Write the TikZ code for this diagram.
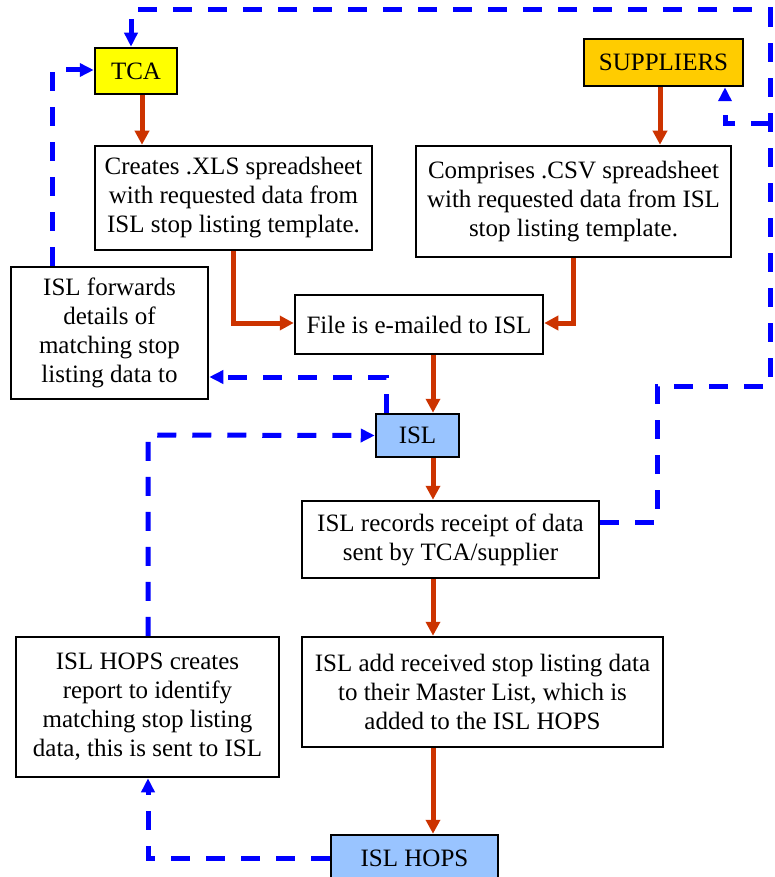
\documentclass[tikz,border=0pt]{standalone}
\usepackage{fontspec}
\setmainfont{Liberation Serif}
\usetikzlibrary{arrows.meta}
\definecolor{redarr}{RGB}{204,51,0}
\definecolor{tcay}{RGB}{255,255,0}
\definecolor{supy}{RGB}{255,204,0}
\definecolor{islb}{RGB}{153,196,255}
\tikzset{
  box/.style={draw=black, line width=2.5pt, fill=white, inner sep=0pt, align=center,
    font=\fontsize{25}{29}\selectfont},
  redline/.style={draw=redarr, line width=5pt, -{Triangle[length=14pt,width=14pt]}},
  blueline/.style={draw=blue, line width=5pt, dash pattern=on 19pt off 16pt},
  bluearr/.style={blueline, -{Triangle[length=14pt,width=13pt]}}
}
\begin{document}
\begin{tikzpicture}[x=1pt,y=-1pt]
\useasboundingbox (0,0) rectangle (775,877);
% nodes
\node[box, fill=tcay, minimum width=82pt, minimum height=46pt] (tca) at (136,71) {TCA};
\node[box, minimum width=277pt, minimum height=104pt] (cre) at (233.5,198) {Creates .XLS spreadsheet\\with requested data from\\ISL stop listing template.};
\node[box, minimum width=197pt, minimum height=132pt] (fwd) at (109.5,333) {ISL forwards\\details of\\matching stop\\listing data to};
\node[box, minimum width=248pt, minimum height=59pt] (file) at (419,324.5) {File is e-mailed to ISL};
\node[box, fill=supy, minimum width=159pt, minimum height=47pt] (sup) at (663.5,62.5) {SUPPLIERS};
\node[box, minimum width=315pt, minimum height=111pt] (com) at (573.5,201.5) {Comprises .CSV spreadsheet\\with requested data from ISL\\stop listing template.};
\node[box, fill=islb, minimum width=83pt, minimum height=43pt] (isl) at (417.5,435.5) {ISL};
\node[box, minimum width=297pt, minimum height=77pt] (rec) at (450.5,539.5) {ISL records receipt of data\\sent by TCA/supplier};
\node[box, minimum width=361pt, minimum height=110pt] (add) at (482.5,692) {ISL add received stop listing data\\to their Master List, which is\\added to the ISL HOPS};
\node[box, minimum width=263pt, minimum height=140pt] (hcr) at (147.5,707) {ISL HOPS creates\\report to identify\\matching stop listing\\data, this is sent to ISL};
\node[box, fill=islb, minimum width=167pt, minimum height=46pt] (hops) at (414.5,858) {ISL HOPS};
% coordinates for bends
\coordinate (r1) at (657,522);
\coordinate (r2) at (657,386);
\coordinate (r3) at (770,386);
\coordinate (r4) at (770,10);
\coordinate (r5) at (131,10);
\coordinate (s1) at (770,124);
\coordinate (s2) at (725,124);
\coordinate (f1) at (386,377);
\coordinate (t1) at (52,70);
\coordinate (h1) at (148,858);
\coordinate (h2) at (148,435);
\coordinate (a1) at (142,0);
\coordinate (a2) at (660,0);
\coordinate (a3) at (233,323);
\coordinate (a4) at (573,323);
\coordinate (a5) at (433,0);
% red arrows
\draw[redline] (tca.south -| a1) -- (cre.north -| a1);
\draw[redline] (sup.south -| a2) -- (com.north -| a2);
\draw[redline] (cre.south -| a3) -- (a3) -- (a3 -| file.west);
\draw[redline] (com.south -| a4) -- (a4) -- (a4 -| file.east);
\draw[redline] (file.south -| a5) -- (isl.north -| a5);
\draw[redline] (isl.south -| a5) -- (rec.north -| a5);
\draw[redline] (rec.south -| a5) -- (add.north -| a5);
\draw[redline] (add.south -| a5) -- (hops.north -| a5);
% blue dashed
\draw[bluearr] (rec.east |- r1) -- (r1) -- (r2) -- (r3) -- (r4) -- (r5) -- (tca.north -| r5);
\draw[bluearr] (s1) -- (s2) -- (sup.south -| s2);
\draw[bluearr] (isl.north -| f1) -- (f1) -- (fwd.east |- f1);
\draw[bluearr] (fwd.north -| t1) -- (t1) -- (t1 -| tca.west);
\draw[bluearr] (hops.west |- h1) -- (h1) -- (hcr.south -| h1);
\draw[bluearr] (hcr.north -| h2) -- (h2) -- (isl.west);
\end{tikzpicture}
\end{document}
